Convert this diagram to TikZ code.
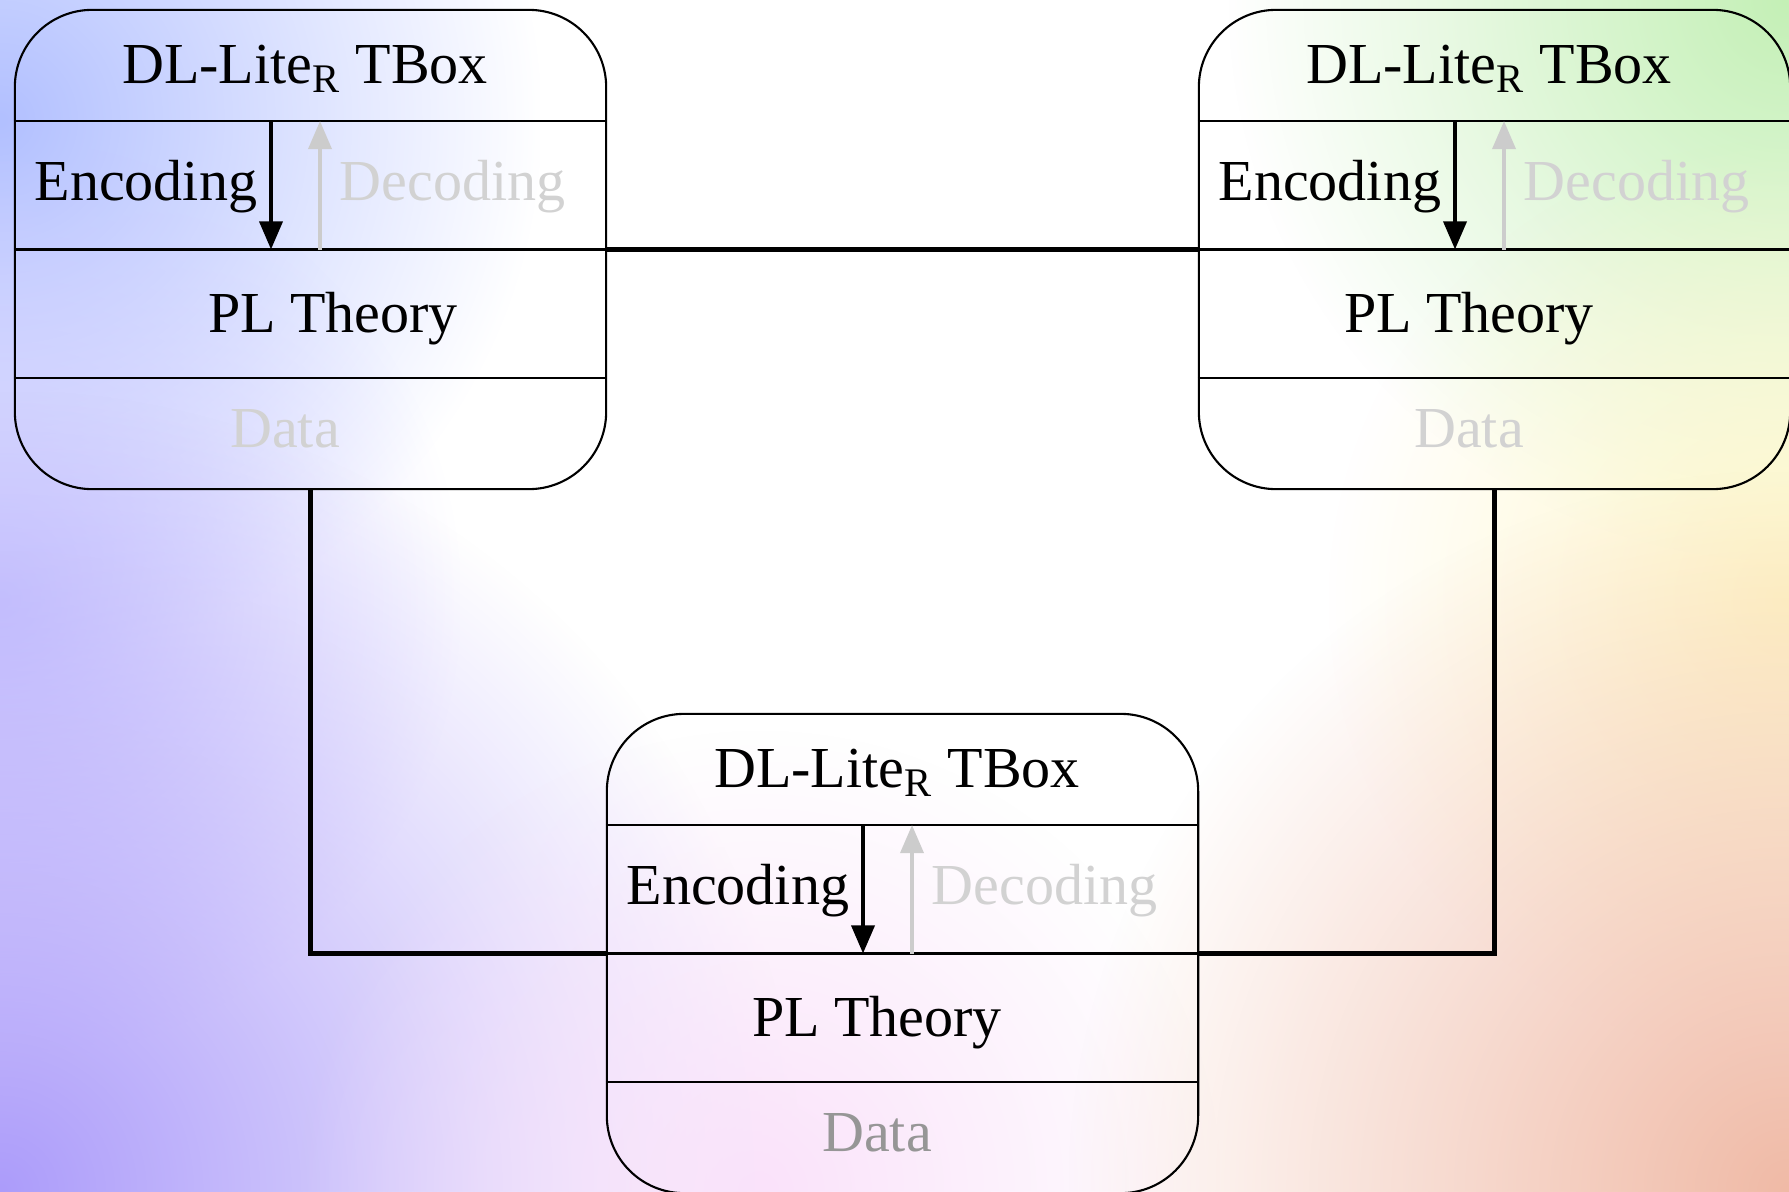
\documentclass[tikz,border=0pt]{standalone}
\usepackage{fontspec}
\setmainfont{Liberation Serif}
\usetikzlibrary{arrows.meta,fadings}

\definecolor{bgblue}{RGB}{178,192,255}
\definecolor{bglav}{RGB}{204,202,255}
\definecolor{bgpurple}{RGB}{172,156,250}
\definecolor{bgpink}{RGB}{250,226,250}
\definecolor{bggreen}{RGB}{196,240,182}
\definecolor{bgcream}{RGB}{255,247,200}
\definecolor{bgpeach}{RGB}{240,186,166}
\tikzfading[name=glow, inner color=transparent!0, outer color=transparent!100]

\tikzset{
  tbox/.style={draw,line width=0.6pt,rounded corners=22pt,minimum width=5.91cm,minimum height=4.79cm,inner sep=0pt},
  lbl/.style={font=\fontsize{16.5}{18}\selectfont,anchor=base,inner sep=0pt},
  enc/.style={line width=1.2pt,-{Triangle[length=8pt,width=6.5pt]}},
  dec/.style={enc,gray!40},
  link/.style={line width=1.5pt},
}

\begin{document}
\begin{tikzpicture}[x=0.01cm,y=-0.01cm]
  \useasboundingbox (0,0) rectangle (1789,1191);
  % background
  \begin{scope}
    \clip (0,0) rectangle (1789,1191);
    \fill[white] (0,0) rectangle (1789,1191);
    \foreach \gx/\gy/\gr/\gc in {0/120/540/bgblue, 0/600/460/bglav, 0/1191/800/bgpurple, 760/1191/460/bgpink,
                                 1789/0/560/bggreen, 1789/600/460/bgcream, 1789/1191/720/bgpeach}
      \fill[\gc, path fading=glow] (\gx-\gr,\gy-\gr) rectangle (\gx+\gr,\gy+\gr);
  \end{scope}

  % the three boxes
  \foreach \b/\bx/\by/\pl/\dc in {box1/310.5/249.5/22.5/gray!35,
                                  box2/1494.5/249.5/-25.5/gray!35,
                                  box3/902.5/953.5/-25.5/gray!82} {
    \node[tbox] (\b) at (\bx,\by) {};
    \foreach \dy in {-128.5,0,128.5}
      \draw[line width=0.6pt] ([shift={(0,\dy)}]\b.west) -- ([shift={(0,\dy)}]\b.east);
    \node[lbl] (\b-title) at ([shift={(-5.5,-166)}]\b.center) {DL-Lite\textsubscript{R} TBox};
    \node[lbl,anchor=base west] (\b-enc) at ([shift={(-276.5,-49.5)}]\b.center) {Encoding};
    \node[lbl,anchor=base west,text=gray!35] (\b-dec) at ([shift={(28.5,-49.5)}]\b.center) {Decoding};
    \node[lbl] (\b-pl) at ([shift={(\pl,82.5)}]\b.center) {PL Theory};
    \node[lbl,text=\dc] (\b-data) at ([shift={(-25.5,197.5)}]\b.center) {Data};
    \coordinate (\b-e1) at ([shift={(-39.5,-128.5)}]\b.center);
    \coordinate (\b-e2) at ([shift={(-39.5,0)}]\b.center);
    \coordinate (\b-d1) at ([shift={(9.5,0)}]\b.center);
    \coordinate (\b-d2) at ([shift={(9.5,-128.5)}]\b.center);
    \draw[enc] (\b-e1) -- (\b-e2);
    \draw[dec] (\b-d1) -- (\b-d2);
  }

  % links
  \draw[link] (box1.east) -- (box2.west);
  \draw[link] (box1.south) |- (box3.west);
  \draw[link] (box2.south) |- (box3.east);
\end{tikzpicture}
\end{document}
